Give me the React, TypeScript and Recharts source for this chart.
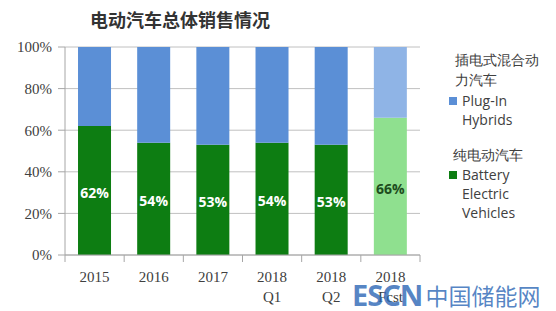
import { BarChart, Bar, XAxis, YAxis, CartesianGrid, Cell, LabelList } from "recharts";

const categories = ["2015", "2016", "2017", "2018\nQ1", "2018\nQ2", "2018\nFcst"];
const batteryShare = [62, 54, 53, 54, 53, 66];
const pluginShare = [38, 46, 47, 46, 47, 34];
const yTicks = [0, 20, 40, 60, 80, 100];

const data = categories.map((name, i) => ({
  name,
  battery: batteryShare[i],
  plugin: pluginShare[i],
}));

const isForecast = (name: string) => name.includes("Fcst");

const XTick = (props: any) => {
  const { x, y, payload, index } = props;
  const step = 355 / categories.length;
  const lines = String(payload.value).split("\n");
  return (
    <g>
      <line x1={x - step / 2} x2={x - step / 2} y1={y - 8} y2={y - 1} stroke="#a6a6a6" />
      {index === categories.length - 1 && (
        <line x1={x + step / 2} x2={x + step / 2} y1={y - 8} y2={y - 1} stroke="#a6a6a6" />
      )}
      <text x={x} y={y + 19} textAnchor="middle" fill="#404040" fontSize={15} fontFamily="Liberation Serif">
        {lines.map((l, i) => (
          <tspan key={i} x={x} dy={i === 0 ? 0 : 20}>
            {l}
          </tspan>
        ))}
      </text>
    </g>
  );
};

const BarLabel = (props: any) => {
  const { x, y, width, height, value, index } = props;
  const fc = isForecast(categories[index]);
  return (
    <text
      x={x + width / 2}
      y={y + height / 2 + 2}
      textAnchor="middle"
      dominantBaseline="central"
      fill={fc ? "#1e4d1e" : "#ffffff"}
      fontSize={14}
      fontWeight="bold"
      fontFamily="Open Sans"
    >
      {value}%
    </text>
  );
};

const legendText = { fontFamily: "Open Sans", fontSize: 14, color: "#404040", lineHeight: "19px" };

export default function App() {
  return (
    <div style={{ position: "absolute", left: 0, top: 0, width: 556, height: 311, background: "#fff", overflow: "hidden" }}>
      <div
        style={{
          position: "absolute",
          left: 90,
          top: 6,
          fontFamily: "Noto Sans CJK SC",
          fontWeight: "bold",
          fontSize: 18,
          color: "#333",
        }}
      >
        电动汽车总体销售情况
      </div>
      <BarChart
        width={556}
        height={311}
        data={data}
        margin={{ top: 47, right: 136, bottom: 0, left: 0 }}
        barCategoryGap="22%"
      >
        <CartesianGrid vertical={false} stroke="#c0c0c0" />
        <XAxis
          dataKey="name"
          tick={<XTick />}
          tickLine={false}
          axisLine={{ stroke: "#a6a6a6" }}
          interval={0}
          height={56}
        />
        <YAxis
          domain={[0, 100]}
          ticks={yTicks}
          tickFormatter={(v) => `${v}%`}
          width={65}
          tick={{ fill: "#404040", fontSize: 15, fontFamily: "Liberation Serif", dx: -4 }}
          tickLine={{ stroke: "#a6a6a6" }}
          tickSize={7}
          axisLine={{ stroke: "#a6a6a6" }}
        />
        <Bar dataKey="battery" stackId="a" isAnimationActive={false}>
          {data.map((d, i) => (
            <Cell key={i} fill={isForecast(d.name) ? "#8fe08f" : "#0d7d12"} />
          ))}
          <LabelList dataKey="battery" content={<BarLabel />} />
        </Bar>
        <Bar dataKey="plugin" stackId="a" isAnimationActive={false}>
          {data.map((d, i) => (
            <Cell key={i} fill={isForecast(d.name) ? "#8fb4e6" : "#5b8fd6"} />
          ))}
        </Bar>
      </BarChart>
      <div style={{ position: "absolute", left: 455, top: 50, ...legendText }}>
        <div>插电式混合动</div>
        <div style={{ marginTop: 1 }}>力汽车</div>
        <div style={{ position: "relative", marginTop: 2, paddingLeft: 7 }}>
          <span style={{ position: "absolute", left: -6, top: 6, width: 8, height: 8, background: "#5b8fd6" }} />
          Plug-In
          <br />
          Hybrids
        </div>
        <div style={{ marginTop: 16, marginLeft: -2 }}>纯电动汽车</div>
        <div style={{ position: "relative", marginTop: 1, paddingLeft: 7 }}>
          <span style={{ position: "absolute", left: -6, top: 6, width: 8, height: 8, background: "#0d7d12" }} />
          Battery
          <br />
          Electric
          <br />
          Vehicles
        </div>
      </div>
      <div
        style={{
          position: "absolute",
          left: 352,
          top: 281,
          height: 28,
          lineHeight: "28px",
          whiteSpace: "nowrap",
          color: "rgba(40,100,180,0.78)",
          fontFamily: "Noto Sans",
          display: "flex",
          alignItems: "center",
        }}
      >
        <span style={{ fontSize: 29, fontWeight: "bold", letterSpacing: -1 }}>ESCN</span>
        <span style={{ fontSize: 23, fontFamily: "Noto Sans CJK SC", marginLeft: 3 }}>中国储能网</span>
      </div>
    </div>
  );
}
